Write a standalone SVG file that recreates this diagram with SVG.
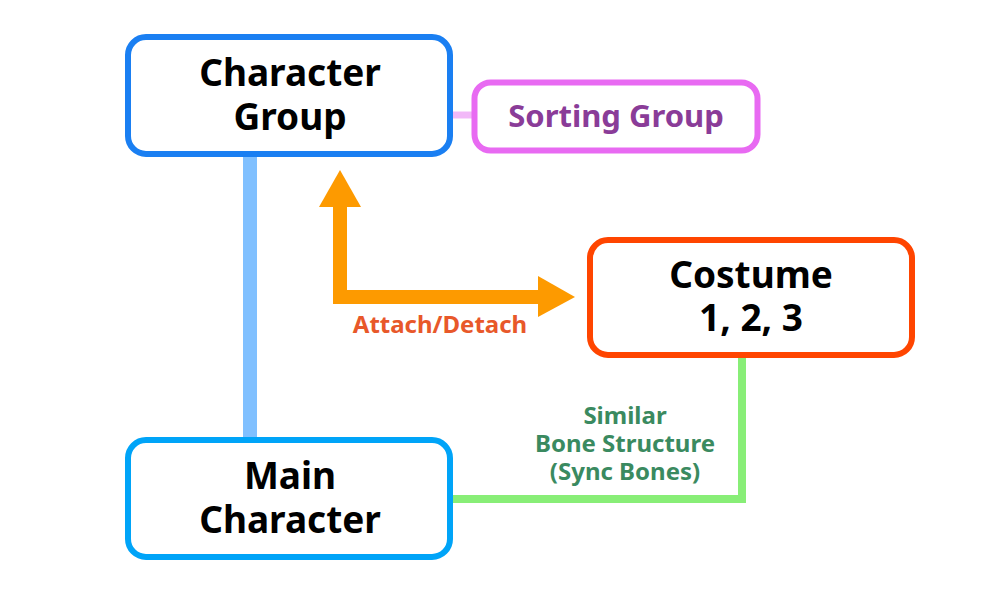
<svg xmlns="http://www.w3.org/2000/svg" width="1000" height="609" viewBox="0 0 1000 609">
<style>
.box{fill:#fff;stroke-width:6}
.t{font-family:"Noto Sans","Open Sans","Liberation Sans",sans-serif;font-weight:bold;text-anchor:middle}
.big{font-size:37px;fill:#000}
.lbl{font-size:24px}
</style>
<rect width="1000" height="609" fill="#fff"/>
<g id="connectors">
<line x1="453" y1="115" x2="472" y2="115" stroke="#f2b8f8" stroke-width="7"/>
<line x1="250" y1="157" x2="250" y2="437" stroke="#80c0ff" stroke-width="14"/>
<polyline points="742,358 742,499 453,499" fill="none" stroke="#88ee77" stroke-width="8"/>
<g id="attach-arrow" fill="#fd9a00">
<polyline points="340,205 340,297 540,297" fill="none" stroke="#fd9a00" stroke-width="14"/>
<polygon points="340,170 361,207 319,207"/>
<polygon points="575,297 538,276 538,317"/>
</g>
<text class="t lbl" x="440" y="333" fill="#e8582a">Attach/Detach</text>
<text class="t lbl" fill="#3a8a60"><tspan x="625" y="424">Similar</tspan><tspan x="625" y="452">Bone Structure</tspan><tspan x="625" y="480">(Sync Bones)</tspan></text>
</g>
<g id="character-group">
<rect class="box" x="128" y="37" width="322" height="117" rx="18" stroke="#1a7ff2"/>
<text class="t big"><tspan x="290" y="86">Character</tspan><tspan x="290" y="130">Group</tspan></text>
</g>
<g id="sorting-group">
<rect class="box" x="474.5" y="82.5" width="283" height="68" rx="16" stroke="#e86af2" stroke-width="5"/>
<text class="t" x="616" y="127" font-size="31" fill="#8a3c98">Sorting Group</text>
</g>
<g id="costume">
<rect class="box" x="590" y="240" width="322" height="115" rx="18" stroke="#ff4500"/>
<text class="t big"><tspan x="751" y="288">Costume</tspan><tspan x="751" y="331">1, 2, 3</tspan></text>
</g>
<g id="main-character">
<rect class="box" x="128" y="440" width="322" height="117" rx="18" stroke="#00a4f8"/>
<text class="t big"><tspan x="290" y="489">Main</tspan><tspan x="290" y="533">Character</tspan></text>
</g>
</svg>
